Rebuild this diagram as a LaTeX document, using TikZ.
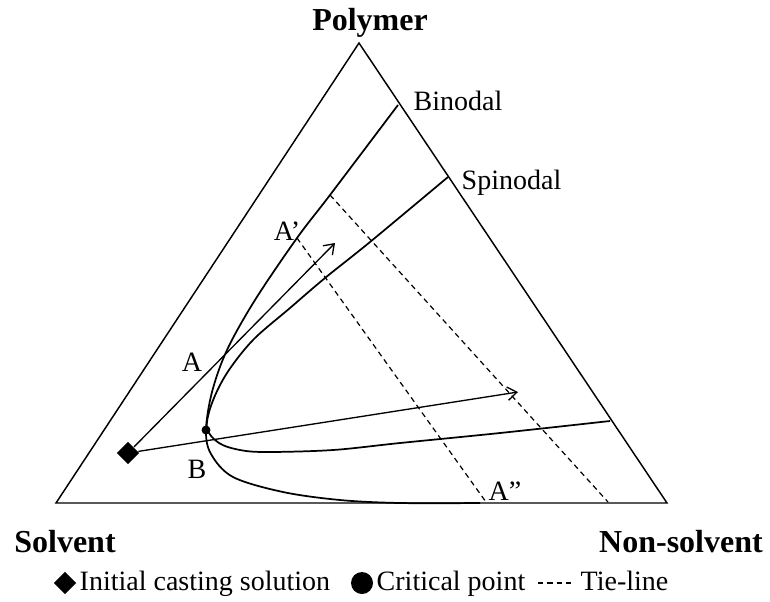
\documentclass[tikz,border=0pt]{standalone}
\usepackage{fontspec}
\setmainfont{Liberation Serif}
\usetikzlibrary{shapes.geometric,arrows.meta}
\begin{document}
\begin{tikzpicture}[x=0.75pt,y=-0.75pt,>={Straight Barb[length=7pt,width=10pt]},line width=1.1pt]
  \tikzset{lbl/.style={inner sep=0pt, font=\fontsize{21}{25}\selectfont},
           corner/.style={inner sep=0pt, font=\fontsize{24}{28}\selectfont\bfseries},
           curve/.style={line width=1.3pt, smooth, tension=0.55},
           tie/.style={line width=0.9pt, dash pattern=on 4pt off 3pt},
           dmd/.style={diamond, fill=black, inner sep=0pt, minimum size=17pt},
           dot/.style={circle, fill=black, inner sep=0pt}}
  \useasboundingbox (0,0) rectangle (770,601);
  % triangle
  \coordinate (P) at (359,43);
  \coordinate (S) at (56,503);
  \coordinate (N) at (667,503);
  \draw (S) -- (P) -- (N) -- cycle;
  \node[corner] (poly) at (370,23) {Polymer};
  \node[corner] (solv) at (65,542) {Solvent};
  \node[corner] (nons) at (681,542) {Non-solvent};
  % binodal and spinodal
  \draw[curve] plot coordinates {(398,105) (330,195) (297,238) (255,300) (227,350)
    (212,392) (206,430) (211,454) (233,477) (283,492) (340,500) (400,503) (480,503)};
  \draw[curve] plot coordinates {(448,177) (370,242) (325,278) (290,308) (253,340)
    (227,373) (212,403) (207,428) (219,443) (240,450) (267,452) (333,450)
    (400,443) (500,433) (610,421)};
  \node[lbl, anchor=base west] (bin) at (413,110) {Binodal};
  \node[lbl, anchor=base west] (spin) at (461,189) {Spinodal};
  % tie-lines
  \coordinate (a1) at (297,238);
  \coordinate (a2) at (486,502);
  \coordinate (t1) at (330,195);
  \coordinate (t2) at (608,502);
  \draw[tie] (a1) -- (a2);
  \draw[tie] (t1) -- (t2);
  % casting solution paths
  \node[dmd] (ini) at (128,453) {};
  \node[dot, minimum size=6.75pt] (crit) at (206,430) {};
  \coordinate (h1) at (335,243);
  \coordinate (h2) at (518,392);
  \draw[->, line width=1pt] (ini) -- (h1);
  \draw[->, line width=1pt] (ini) -- (h2);
  \node[lbl, anchor=base east] (lA1) at (301,240) {A’};
  \node[lbl, anchor=base] (lA) at (192,371) {A};
  \node[lbl, anchor=base] (lB) at (197,478) {B};
  \node[lbl, anchor=base west] (lA2) at (488,500) {A”};
  % legend
  \node[dmd] (kini) at (65,583) {};
  \node[lbl, anchor=base west] (tini) at (79,590) {Initial casting solution};
  \node[dot, minimum size=16.5pt] (kcrit) at (362,583) {};
  \node[lbl, anchor=base west] (tcrit) at (376,590) {Critical point};
  \coordinate (k1) at (538,583);
  \coordinate (k2) at (575,583);
  \draw[tie] (k1) -- (k2);
  \node[lbl, anchor=base west] (ttie) at (580,590) {Tie-line};
\end{tikzpicture}
\end{document}
